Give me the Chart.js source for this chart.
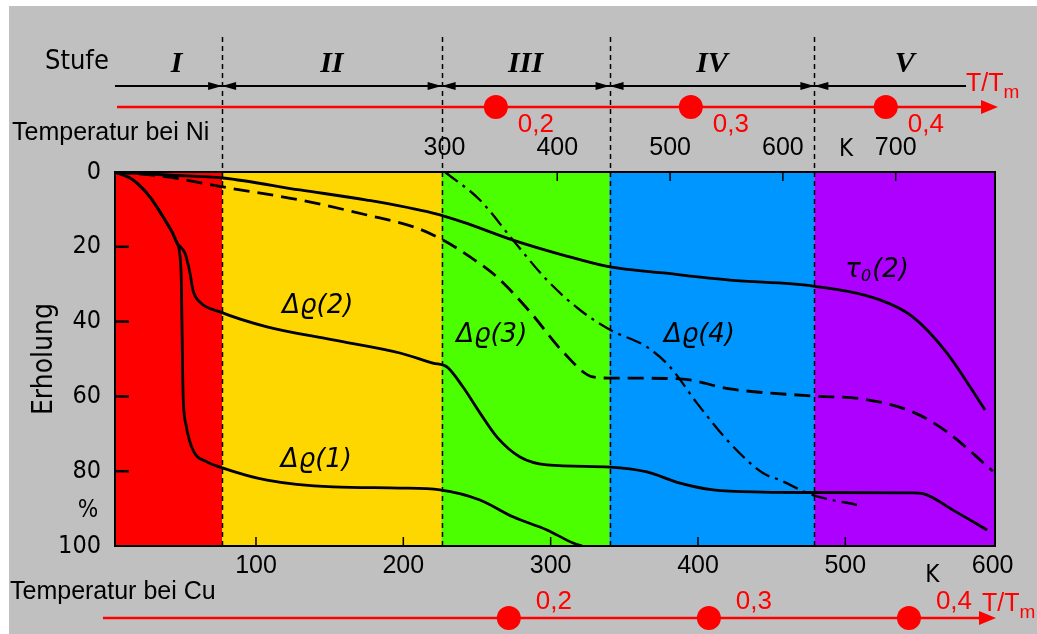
<!DOCTYPE html>
<html>
<head>
<meta charset="utf-8">
<script src="https://cdn.jsdelivr.net/npm/chart.js@4.4.1/dist/chart.umd.min.js"></script>
<style>
  html, body { margin: 0; padding: 0; background: #fff; }
  canvas { display: block; }
</style>
</head>
<body>
<canvas id="erholung" width="1037" height="634"></canvas>
<script>
// Axis ticks (K) and recovery (%)
const cuTicks = [100, 200, 300, 400, 500, 600];
const niTicks = [300, 400, 500, 600, 700];
const recTicks = [0, 20, 40, 60, 80, 100];

// Recovery stages, boundaries on the Cu temperature scale
const stageNames = ['I', 'II', 'III', 'IV', 'V'];
const stageBounds = [4.3, 77, 226, 340, 479, 601.6];
const stageColors = ['#ff0000', '#ffd700', '#4cff00', '#0096ff', '#ad00ff'];

// homologous temperature marks
const homologous = [0.2, 0.3, 0.4];
const meltCu = 1358;
const meltNi = 1728;

// curves (T in K for Cu, recovery in %)
const rho1Temp = [4.3, 16.5, 28.1, 36.9, 43, 46.4, 49.1, 50.5, 52.5, 57.2, 66.7, 75.6, 107.5, 152.3, 197.7, 224.9, 252, 274.4, 297.5, 315.2, 321.3];
const rho1Rec  = [0, 2.1, 6.7, 12, 16, 19, 26.2, 59.1, 67.6, 74.3, 77.5, 78.9, 82.4, 84.2, 84.5, 85, 87.7, 92.2, 95.7, 99.2, 100];

const rho2Temp = [4.3, 16.5, 28.1, 36.9, 43, 46.4, 51.8, 55.2, 57.2, 62, 75.6, 107.5, 152.3, 197.7, 220.1, 229.6, 240.5, 252, 263.6, 279.2, 297.5, 340.3, 365.4, 387.8, 410.2, 444.1, 478.1, 546, 552.7, 573.1, 596.2];
const rho2Rec  = [0, 2.1, 6.7, 12, 16, 19, 21.7, 27, 31.6, 34.8, 37.4, 41.4, 44.9, 48.4, 51.1, 52.1, 57.5, 64.4, 70.9, 76.2, 78.3, 78.9, 80.2, 83.2, 85, 85.6, 85.7, 85.8, 86, 90.4, 95.7];

const rho3Temp = [4.3, 39.6, 77.6, 129.9, 175.3, 209.3, 226.9, 245.3, 263.6, 286, 308.4, 328.7, 340.3, 387.8, 421.7, 478.1, 512, 546, 569, 600.2];
const rho3Rec  = [0, 1.3, 4, 7.5, 11.5, 15, 18.2, 22.7, 28.1, 37.4, 48.1, 54.8, 55.1, 55.3, 58, 59.9, 60.7, 64.2, 69.5, 80];

const rho4Temp = [228.3, 252, 274.4, 297.5, 319.9, 340.3, 365.4, 381, 399.3, 421.7, 444.1, 455.7, 478.1, 507.9];
const rho4Rec  = [0, 7.5, 18.2, 28.9, 36.9, 42.2, 46.8, 52.1, 61.8, 72.5, 80.5, 82.4, 86.4, 89];

const tauTemp = [4.3, 39.6, 77.6, 129.9, 175.3, 220.1, 240.5, 274.4, 308.4, 340.3, 376.3, 421.7, 478.1, 523.5, 546, 569, 594.8];
const tauRec  = [0, 0.8, 1.6, 4.8, 7.5, 11, 13.4, 18.2, 22.2, 25.4, 27, 28.9, 30.5, 34.2, 38.8, 48.4, 63.6];

const pts = (t, r) => t.map((v, i) => ({ x: v, y: r[i] }));

const curveLabels = [
    { text: 'Δϱ(1)', t: 141, r: 77 },
    { text: 'Δϱ(2)', t: 142, r: 36 },
    { text: 'Δϱ(3)', t: 260, r: 43.6 },
    { text: 'Δϱ(4)', t: 401, r: 43.6 }
];

const sans = '"Liberation Sans", Arial, sans-serif';
const cond = '"DejaVu Sans Condensed", "DejaVu Sans", sans-serif';

function arrowHead(ctx, tipX, y, dir, len, half) {
    ctx.beginPath();
    ctx.moveTo(tipX, y);
    ctx.lineTo(tipX - dir * len, y - half);
    ctx.lineTo(tipX - dir * len, y + half);
    ctx.closePath();
    ctx.fill();
}

const paperPlugin = {
    id: 'paper',
    beforeDraw(chart) {
        const ctx = chart.ctx;
        ctx.save();
        ctx.fillStyle = '#ffffff';
        ctx.fillRect(0, 0, chart.width, chart.height);
        ctx.fillStyle = '#c0c0c0';
        ctx.fillRect(9, 6, chart.width - 9, chart.height - 6);
        ctx.restore();
    },
    beforeDatasetsDraw(chart) {
        const { ctx, chartArea: a, scales: { x } } = chart;
        ctx.save();
        stageColors.forEach((c, i) => {
            const x0 = x.getPixelForValue(stageBounds[i]);
            const x1 = x.getPixelForValue(stageBounds[i + 1]);
            ctx.fillStyle = c;
            ctx.fillRect(x0, a.top, x1 - x0, a.bottom - a.top);
        });
        // stage dividers
        ctx.strokeStyle = '#000';
        ctx.lineWidth = 1.5;
        ctx.setLineDash([5, 4]);
        stageBounds.slice(1, -1).forEach(b => {
            const px = Math.round(x.getPixelForValue(b)) + 0.5;
            ctx.beginPath();
            ctx.moveTo(px, a.top - 135);
            ctx.lineTo(px, a.bottom);
            ctx.stroke();
        });
        ctx.restore();
    },
    afterDatasetsDraw(chart) {
        const { ctx, chartArea: a, scales: { x, y, ni } } = chart;
        ctx.save();
        ctx.strokeStyle = '#000';
        ctx.lineWidth = 2;
        ctx.strokeRect(a.left, a.top, a.right - a.left, a.bottom - a.top);
        ctx.lineWidth = 2.5;
        recTicks.slice(1, -1).forEach(v => {
            const py = y.getPixelForValue(v);
            ctx.beginPath(); ctx.moveTo(a.left, py); ctx.lineTo(a.left + 14, py); ctx.stroke();
        });
        ctx.lineWidth = 1.5;
        cuTicks.slice(0, -1).forEach(v => {
            const px = x.getPixelForValue(v);
            ctx.beginPath(); ctx.moveTo(px, a.bottom); ctx.lineTo(px, a.bottom - 9); ctx.stroke();
        });
        niTicks.slice(1).forEach(v => {
            const px = ni.getPixelForValue(v);
            ctx.beginPath(); ctx.moveTo(px, a.top); ctx.lineTo(px, a.top + 9); ctx.stroke();
        });

        // curve labels
        ctx.fillStyle = '#000';
        ctx.textAlign = 'center';
        ctx.textBaseline = 'middle';
        ctx.font = 'italic 26px "DejaVu Sans", sans-serif';
        curveLabels.forEach(l => {
            ctx.fillText(l.text, x.getPixelForValue(l.t), y.getPixelForValue(l.r));
        });
        // tau_0(2)
        let tx = x.getPixelForValue(500), ty = y.getPixelForValue(26.2);
        ctx.textAlign = 'left';
        ctx.fillText('τ', tx, ty);
        tx += ctx.measureText('τ').width;
        ctx.font = 'italic 16px "DejaVu Sans", sans-serif';
        ctx.fillText('0', tx, ty + 7);
        tx += ctx.measureText('0').width + 1;
        ctx.font = 'italic 26px "DejaVu Sans", sans-serif';
        ctx.fillText('(2)', tx, ty);
        ctx.restore();
    },
    afterDraw(chart) {
        const { ctx, chartArea: a, scales: { x, y, ni } } = chart;
        ctx.save();
        ctx.fillStyle = '#000';
        ctx.strokeStyle = '#000';

        // y axis title and unit
        ctx.font = '28px ' + cond;
        ctx.textAlign = 'center';
        ctx.textBaseline = 'middle';
        ctx.save();
        ctx.translate(45, y.getPixelForValue(50));
        ctx.rotate(-Math.PI / 2);
        ctx.fillText('Erholung', 0, 0);
        ctx.restore();
        ctx.font = '24px ' + cond;
        ctx.fillText('%', 88, y.getPixelForValue(90.5));

        // Stufe row
        const stageY = a.top - 110;
        const lineY = a.top - 86;
        ctx.font = '27px ' + cond;
        ctx.textAlign = 'left';
        ctx.fillText('Stufe', 45, stageY);
        ctx.font = 'italic bold 30px "Liberation Serif", serif';
        ctx.textAlign = 'center';
        stageNames.forEach((s, i) => {
            const mid = (x.getPixelForValue(stageBounds[i]) + x.getPixelForValue(stageBounds[i + 1])) / 2;
            ctx.fillText(s, mid + (i === 0 ? 8 : 0), stageY + 2);
        });
        ctx.lineWidth = 2;
        ctx.beginPath();
        ctx.moveTo(a.left, lineY);
        ctx.lineTo(966, lineY);
        ctx.stroke();
        stageBounds.slice(1, -1).forEach(b => {
            const px = x.getPixelForValue(b);
            arrowHead(ctx, px, lineY, 1, 14, 4);
            arrowHead(ctx, px, lineY, -1, 14, 4);
        });

        // Ni temperature scale texts
        ctx.font = '25px ' + sans;
        ctx.textAlign = 'left';
        ctx.fillText('Temperatur bei Ni', 12, a.top - 39);
        ctx.font = '24px ' + cond;
        ctx.textAlign = 'center';
        ctx.fillText('K', ni.getPixelForValue(656), a.top - 22);

        // Cu temperature scale texts
        ctx.font = '25px ' + sans;
        ctx.textAlign = 'left';
        ctx.fillText('Temperatur bei Cu', 10, a.bottom + 46);
        ctx.font = '24px ' + cond;
        ctx.textAlign = 'center';
        ctx.fillText('K', x.getPixelForValue(559), a.bottom + 30);

        // homologous temperature arrows
        const red = '#ff0000';
        const drawTm = (yLine, x0, x1, scale, melt, dx, dy, tmX, tmY) => {
            ctx.strokeStyle = red;
            ctx.fillStyle = red;
            ctx.lineWidth = 2.5;
            ctx.beginPath();
            ctx.moveTo(x0, yLine);
            ctx.lineTo(x1 - 10, yLine);
            ctx.stroke();
            arrowHead(ctx, x1, yLine, 1, 17, 7);
            ctx.font = '26px ' + sans;
            ctx.textAlign = 'center';
            ctx.textBaseline = 'middle';
            homologous.forEach(h => {
                const px = scale.getPixelForValue(h * melt);
                ctx.beginPath();
                ctx.arc(px, yLine, 12, 0, Math.PI * 2);
                ctx.fill();
                ctx.fillText(h.toFixed(1).replace('.', ','), px + dx, yLine + dy);
            });
            ctx.textAlign = 'left';
            ctx.font = '25px ' + sans;
            ctx.fillText('T/T', tmX, tmY);
            const w = ctx.measureText('T/T').width;
            ctx.font = '19px ' + sans;
            ctx.fillText('m', tmX + w, tmY + 9);
        };
        drawTm(a.top - 65, 117, 998, ni, meltNi, 40, 18, 966, a.top - 88);
        drawTm(a.bottom + 72, 103, 996, x, meltCu, 45, -16, 982, a.bottom + 58);
        ctx.restore();
    }
};

const lineStyle = {
    borderColor: '#000',
    borderWidth: 2.8,
    pointRadius: 0,
    fill: false,
    cubicInterpolationMode: 'monotone'
};

new Chart(document.getElementById('erholung'), {
    type: 'line',
    data: {
        datasets: [
            { ...lineStyle, label: 'Δϱ(1)', data: pts(rho1Temp, rho1Rec) },
            { ...lineStyle, label: 'Δϱ(2)', data: pts(rho2Temp, rho2Rec) },
            { ...lineStyle, label: 'Δϱ(3)', data: pts(rho3Temp, rho3Rec), borderDash: [16, 8] },
            { ...lineStyle, label: 'Δϱ(4)', data: pts(rho4Temp, rho4Rec), borderDash: [16, 6, 3, 6], borderWidth: 2.3 },
            { ...lineStyle, label: 'τ0(2)', data: pts(tauTemp, tauRec) }
        ]
    },
    options: {
        responsive: false,
        animation: false,
        devicePixelRatio: 1,
        layout: { padding: { top: 112, right: 42, bottom: 0, left: 0 } },
        plugins: { legend: { display: false }, tooltip: { enabled: false } },
        scales: {
            x: {
                type: 'linear',
                position: 'bottom',
                min: 4.3,
                max: 601.6,
                afterBuildTicks: s => { s.ticks = cuTicks.map(v => ({ value: v })); },
                afterFit: s => { s.height = 88; },
                grid: { display: false, drawTicks: false },
                border: { display: false },
                ticks: { color: '#000', font: { family: sans, size: 25 }, padding: 5, maxRotation: 0, autoSkip: false }
            },
            ni: {
                type: 'linear',
                axis: 'x',
                position: 'top',
                min: 8,
                max: 788,
                afterBuildTicks: s => { s.ticks = niTicks.map(v => ({ value: v })); },
                afterFit: s => { s.height = 60; },
                grid: { display: false, drawTicks: false },
                border: { display: false },
                ticks: { color: '#000', font: { family: sans, size: 25 }, padding: 9, maxRotation: 0, autoSkip: false }
            },
            y: {
                type: 'linear',
                min: 0,
                max: 100,
                reverse: true,
                afterBuildTicks: s => { s.ticks = recTicks.map(v => ({ value: v })); },
                afterFit: s => { s.width = 115; },
                grid: { display: false, drawTicks: false },
                border: { display: false },
                ticks: { color: '#000', font: { family: cond, size: 25 }, padding: 14 }
            }
        }
    },
    plugins: [paperPlugin]
});
</script>
</body>
</html>
